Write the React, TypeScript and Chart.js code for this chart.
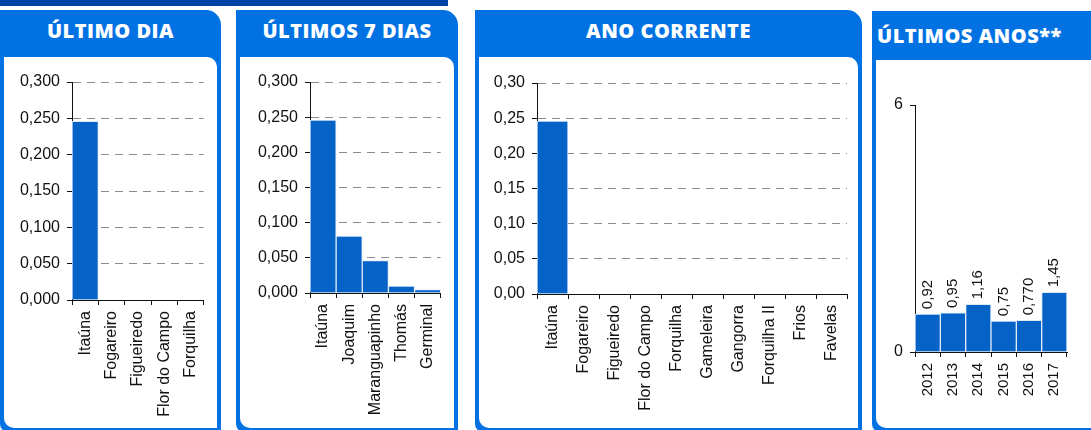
import React, { useEffect, useRef } from 'react';
import { Chart, registerables } from 'chart.js';

Chart.register(...registerables);

// ---------- data ----------
const dayCategories = ['Itaúna', 'Fogareiro', 'Figueiredo', 'Flor do Campo', 'Forquilha'];
const dayValues = [0.246, 0, 0, 0, 0];

const weekCategories = ['Itaúna', 'Joaquim', 'Maranguapinho', 'Thomás', 'Germinal'];
const weekValues = [0.246, 0.081, 0.046, 0.01, 0.005];

const yearCategories = [
  'Itaúna', 'Fogareiro', 'Figueiredo', 'Flor do Campo', 'Forquilha',
  'Gameleira', 'Gangorra', 'Forquilha II', 'Frios', 'Favelas',
];
const yearValues = [0.246, 0, 0, 0, 0, 0, 0, 0, 0, 0];

const yearsCategories = ['2012', '2013', '2014', '2015', '2016', '2017'];
const yearsValues = [0.92, 0.95, 1.16, 0.75, 0.77, 1.45];
const yearsValueLabels = ['0,92', '0,95', '1,16', '0,75', '0,770', '1,45'];

const ticks3Dec = ['0,000', '0,050', '0,100', '0,150', '0,200', '0,250', '0,300'];
const ticks2Dec = ['0,00', '0,05', '0,10', '0,15', '0,20', '0,25', '0,30'];
const ticksYears = ['0', '6'];

const titles = ['ÚLTIMO DIA', 'ÚLTIMOS 7 DIAS', 'ANO CORRENTE', 'ÚLTIMOS ANOS**'];

// ---------- styles ----------
const PANEL_BLUE = '#0272E3';
const BAR_BLUE = '#0563C8';
const TICK_FONT = '"Liberation Sans", Arial, sans-serif';

const valueLabelPlugin = {
  id: 'valueLabels',
  afterDatasetsDraw(chart: any, _args: any, opts: any) {
    const labels: string[] | undefined = opts && opts.labels;
    if (!labels) return;
    const ctx = chart.ctx;
    const meta = chart.getDatasetMeta(0);
    ctx.save();
    ctx.font = `${opts.size || 15}px ${TICK_FONT}`;
    ctx.fillStyle = '#111';
    ctx.textAlign = 'left';
    ctx.textBaseline = 'middle';
    meta.data.forEach((bar: any, i: number) => {
      ctx.save();
      ctx.translate(bar.x, bar.y - 5);
      ctx.rotate(-Math.PI / 2);
      ctx.fillText(labels[i], 0, 0);
      ctx.restore();
    });
    ctx.restore();
  },
};

type ChartProps = {
  left: number; top: number; width: number; height: number;
  yWidth: number; xHeight: number; padTop: number; padRight: number;
  categories: string[]; values: number[];
  yMax: number; step: number; yTickLabels: string[];
  showGrid: boolean; valueLabels?: string[]; fontSize: number; yFontSize: number;
};

function BarPanelChart(p: ChartProps) {
  const ref = useRef<HTMLCanvasElement | null>(null);
  useEffect(() => {
    if (!ref.current) return;
    const chart = new Chart(ref.current, {
      type: 'bar',
      data: {
        labels: p.categories,
        datasets: [{
          data: p.values,
          backgroundColor: BAR_BLUE,
          borderColor: '#dfe9f7',
          borderWidth: 1,
          barPercentage: 1,
          categoryPercentage: 1,
        }],
      },
      plugins: [valueLabelPlugin],
      options: {
        animation: false,
        responsive: false,
        maintainAspectRatio: false,
        devicePixelRatio: 1,
        layout: { padding: { top: p.padTop, right: p.padRight, left: 0, bottom: 0 } },
        plugins: {
          legend: { display: false },
          tooltip: { enabled: false },
          valueLabels: { labels: p.valueLabels, size: 15 },
        } as any,
        scales: {
          x: {
            afterFit: (s: any) => { s.height = p.xHeight; },
            grid: {
              display: true,
              drawOnChartArea: false,
              drawTicks: true,
              offset: true,
              tickLength: 5,
              tickColor: '#111',
              tickWidth: 1,
            },
            border: { display: true, color: '#111', width: 1 },
            ticks: {
              autoSkip: false,
              maxRotation: 90,
              minRotation: 90,
              padding: 6,
              color: '#111',
              font: { family: TICK_FONT, size: p.fontSize },
            },
          },
          y: {
            min: 0,
            max: p.yMax,
            afterFit: (s: any) => { s.width = p.yWidth; },
            grid: {
              display: true,
              drawOnChartArea: p.showGrid,
              drawTicks: true,
              color: '#8c8c8c',
              lineWidth: 1,
              tickLength: 5,
              tickColor: '#111',
              tickBorderDash: [],
            },
            border: { display: true, color: '#111', width: 1, dash: [8, 6] },
            ticks: {
              stepSize: p.step,
              padding: 7,
              color: '#111',
              font: { family: TICK_FONT, size: p.yFontSize },
              callback: (_v: any, i: number) => p.yTickLabels[i],
            },
          },
        },
      } as any,
    });
    return () => chart.destroy();
  }, []);
  return (
    <canvas
      ref={ref}
      width={p.width}
      height={p.height}
      style={{ position: 'absolute', left: p.left, top: p.top, width: p.width, height: p.height }}
    />
  );
}

function Panel(props: { left: number; top: number; width: number; height: number; title: string; align: 'center' | 'left'; headerH: number; titleH: number }) {
  const { left, top, width, height, title, align, headerH, titleH } = props;
  return (
    <div style={{
      position: 'absolute', left, top, width, height, background: PANEL_BLUE,
      borderTopRightRadius: 15, borderBottomLeftRadius: 8,
    }}>
      <div style={{
        position: 'absolute', left: align === 'left' ? 5 : 0, top: 0, width: align === 'left' ? 400 : width, height: titleH,
        lineHeight: `${titleH}px`, textAlign: align, color: '#fff',
        fontFamily: '"Open Sans", "DejaVu Sans", sans-serif', fontWeight: 800, fontSize: 20,
        letterSpacing: 0.5, whiteSpace: 'nowrap',
      }}>{title}</div>
      <div style={{
        position: 'absolute', left: 4, top: headerH, right: 4, bottom: 4, background: '#fff',
        borderTopRightRadius: 10, borderBottomLeftRadius: 10,
      }} />
    </div>
  );
}

export default function App() {
  return (
    <div style={{ position: 'fixed', left: 0, top: 0, width: 1091, height: 430, overflow: 'hidden', background: '#fff' }}>
      <div style={{ position: 'absolute', left: 0, top: 0, width: 448, height: 6, background: '#0042A6' }} />
      <Panel left={0} top={10} width={221} height={422} title={titles[0]} align="center" headerH={47} titleH={42} />
      <Panel left={236} top={10} width={222} height={422} title={titles[1]} align="center" headerH={47} titleH={42} />
      <Panel left={475} top={10} width={387} height={422} title={titles[2]} align="center" headerH={47} titleH={42} />
      <Panel left={872} top={11} width={240} height={421} title={titles[3]} align="left" headerH={49} titleH={50} />

      <BarPanelChart left={4} top={57} width={213} height={373} yWidth={68} xHeight={130} padTop={25} padRight={13}
        categories={dayCategories} values={dayValues} yMax={0.3} step={0.05} yTickLabels={ticks3Dec} showGrid fontSize={16} yFontSize={16} />
      <BarPanelChart left={241} top={57} width={213} height={373} yWidth={69} xHeight={137} padTop={25} padRight={12}
        categories={weekCategories} values={weekValues} yMax={0.3} step={0.05} yTickLabels={ticks3Dec} showGrid fontSize={16} yFontSize={16} />
      <BarPanelChart left={480} top={57} width={378} height={373} yWidth={57} xHeight={136} padTop={26} padRight={11}
        categories={yearCategories} values={yearValues} yMax={0.3} step={0.05} yTickLabels={ticks2Dec} showGrid fontSize={16} yFontSize={16} />
      <BarPanelChart left={876} top={60} width={215} height={370} yWidth={39} xHeight={78} padTop={45} padRight={24}
        categories={yearsCategories} values={yearsValues} yMax={6} step={6} yTickLabels={ticksYears} showGrid={false}
        valueLabels={yearsValueLabels} fontSize={15} yFontSize={16} />
    </div>
  );
}
